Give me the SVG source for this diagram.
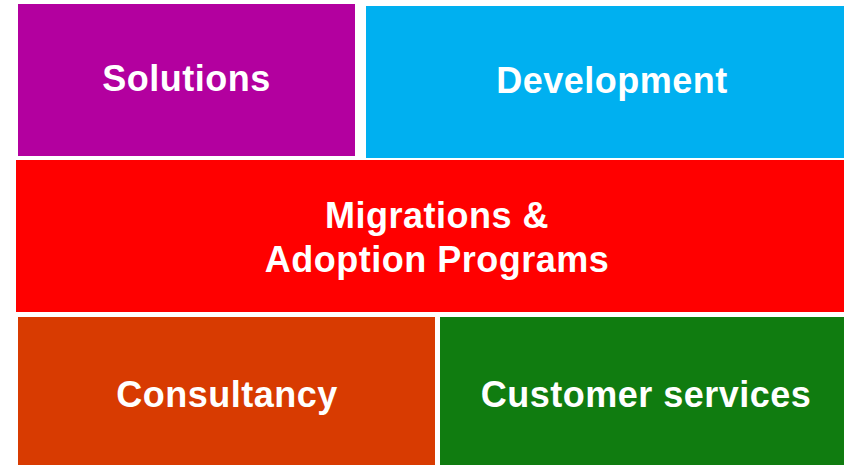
<svg xmlns="http://www.w3.org/2000/svg" width="844" height="465" viewBox="0 0 844 465">
<style>
text{font-family:"Liberation Sans",Arial,sans-serif;font-weight:bold;font-size:36px;letter-spacing:0.5px;fill:#ffffff;text-anchor:middle}
</style>
<rect width="844" height="465" fill="#ffffff"/>
<g id="solutions"><rect x="18" y="4" width="337" height="152" fill="#b3009f"/><text x="186.5" y="91">Solutions</text></g>
<g id="development"><rect x="366" y="6" width="492" height="152" fill="#00b0f0"/><text x="612" y="93">Development</text></g>
<g id="migrations"><rect x="16" y="160" width="842" height="152" fill="#ff0000"/><text x="437" y="228">Migrations &amp;</text><text x="437" y="272">Adoption Programs</text></g>
<g id="consultancy"><rect x="18" y="317" width="417" height="148" fill="#d83b01"/><text x="227" y="407">Consultancy</text></g>
<g id="customer"><rect x="440" y="317" width="418" height="148" fill="#107c10"/><text x="646" y="407">Customer services</text></g>
<g id="connectors"/>
</svg>
